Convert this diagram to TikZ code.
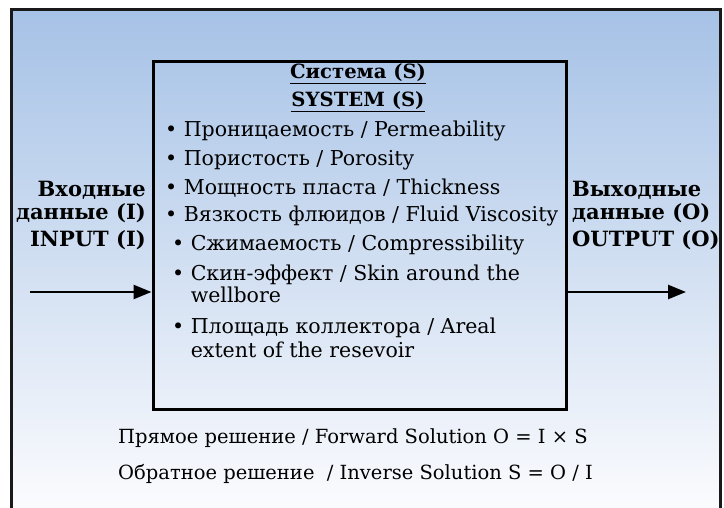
\documentclass[tikz,border=0pt]{standalone}
\usepackage{fontspec}
\setmainfont{DejaVu Serif}
\usetikzlibrary{arrows.meta}
\definecolor{topblue}{RGB}{166,194,230}
\definecolor{botwhite}{RGB}{252,252,254}
\begin{document}
\begin{tikzpicture}[x=1pt,y=-1pt,
  frame/.style={line width=3pt,draw=black!90},
  sysbox/.style={draw=black,line width=3pt,minimum width=413pt,minimum height=347pt,inner sep=0pt},
  head/.style={font=\fontsize{19.6}{22}\selectfont\bfseries,anchor=base},
  item/.style={font=\fontsize{20.5}{22}\selectfont,anchor=base west,inner sep=0pt},
  lbl/.style={font=\fontsize{21}{22}\selectfont\bfseries,inner sep=0pt},
  sol/.style={font=\fontsize{19.5}{22}\selectfont,anchor=base west,inner sep=0pt},
  flow/.style={line width=2.5pt,-{Triangle[length=18pt,width=14pt]}}]
\useasboundingbox (0,0) rectangle (724,508);
\shade[top color=topblue,bottom color=botwhite] (11,10) rectangle (720,515);
\draw[frame] (11,530) -- (11,10) -- (720,10) -- (720,530);
\node[sysbox] (sys) at (359.5,235.5) {};
\node[head] (t1) at (358,79) {\underline{Система (S)}};
\node[head] (t2) at (358,107) {\underline{SYSTEM (S)}};
\node[item] (b1) at (165,137) {• Проницаемость / Permeability};
\node[item] (b2) at (165,166) {• Пористость / Porosity};
\node[item] (b3) at (165,195) {• Мощность пласта / Thickness};
\node[item] (b4) at (165,222) {• Вязкость флюидов / Fluid Viscosity};
\node[item] (b5) at (172,251) {• Сжимаемость / Compressibility};
\node[item] (b6) at (172,280) {• Скин-эффект / Skin around the};
\node[item] (b6b) at (172,303) {\hphantom{• }wellbore};
\node[item] (b7) at (172,334) {• Площадь коллектора / Areal};
\node[item] (b7b) at (172,357) {\hphantom{• }extent of the resevoir};
\node[lbl,anchor=base east] (i1) at (146,197) {Входные};
\node[lbl,anchor=base east] (i2) at (146,220) {данные (I)};
\node[lbl,anchor=base east] (i3) at (146,247) {INPUT (I)};
\node[lbl,anchor=base west] (o1) at (572,197) {Выходные};
\node[lbl,anchor=base west] (o2) at (572,220) {данные (O)};
\node[lbl,anchor=base west] (o3) at (572,247) {OUTPUT (O)};
\coordinate (inL) at (30,292);
\coordinate (outR) at (686,292);
\draw[flow] (inL) -- (sys.west |- inL);
\draw[flow] (sys.east |- outR) -- (outR);
\node[sol] (s1) at (118,443) {Прямое решение / Forward Solution O = I × S};
\node[sol] (s2) at (118,479) {Обратное решение~ / Inverse Solution S = O / I};
\end{tikzpicture}
\end{document}
